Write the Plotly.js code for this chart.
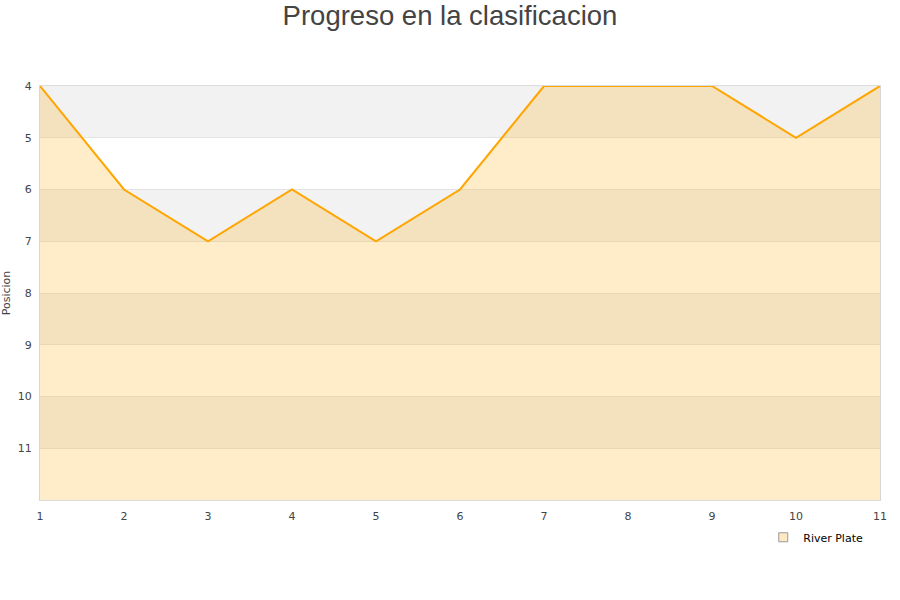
<!DOCTYPE html>
<html>
<head>
<meta charset="utf-8">
<script src="https://cdn.plot.ly/plotly-3.0.1.min.js"></script>
<style>
  html, body { margin: 0; padding: 0; background: #fff; }
  #chart { width: 900px; height: 600px; }
</style>
</head>
<body>
<div id="chart"></div>
<script>
// Jornadas played and the league position after each one
const jornadas = [1, 2, 3, 4, 5, 6, 7, 8, 9, 10, 11];
const posiciones = [4, 6, 7, 6, 7, 6, 4, 4, 4, 5, 4];
const equipo = 'River Plate';
const yTicks = [4, 5, 6, 7, 8, 9, 10, 11];
const yLimits = [4, 12];

// Alternating grey / white horizontal bands behind the plot
const bands = [];
for (let v = yLimits[0]; v < yLimits[1]; v += 2) {
  bands.push({
    type: 'rect', xref: 'paper', yref: 'y', layer: 'below',
    x0: 0, x1: 1, y0: v, y1: v + 1,
    fillcolor: '#f2f2f2', line: { width: 0 }
  });
}

const baseline = {
  x: jornadas, y: jornadas.map(() => yLimits[1]),
  mode: 'lines', line: { width: 0 }, hoverinfo: 'skip', showlegend: false
};

const serie = {
  x: jornadas, y: posiciones, name: equipo,
  mode: 'lines', fill: 'tonexty', fillcolor: 'rgba(255,165,0,0.21)',
  line: { color: '#ffa500', width: 2 }, showlegend: false, cliponaxis: false
};

const leyenda = {
  x: [null], y: [null], name: equipo, mode: 'markers',
  marker: { symbol: 'square', size: 9, color: '#fde9c4', line: { color: '#999', width: 1 } },
  showlegend: true
};

const layout = {
  width: 900, height: 600,
  paper_bgcolor: '#fff', plot_bgcolor: 'rgba(0,0,0,0)',
  margin: { l: 40, r: 20, t: 86, b: 100 },
  title: {
    text: 'Progreso en la clasificacion',
    font: { family: 'Liberation Sans, Arial, sans-serif', size: 27.5, color: '#444' },
    x: 0.5, xanchor: 'center', y: 0.974, yanchor: 'middle'
  },
  font: { family: 'DejaVu Sans, sans-serif', size: 11, color: '#444' },
  xaxis: {
    range: [1, 11], tickvals: jornadas, ticks: 'outside', ticklen: 6, tickcolor: 'rgba(0,0,0,0)',
    showgrid: false, zeroline: false,
    showline: true, linecolor: '#dcdcdc', linewidth: 1, mirror: true,
    tickfont: { size: 11, color: '#444' }
  },
  yaxis: {
    range: [yLimits[1], yLimits[0]], tickvals: yTicks, ticks: 'outside', ticklen: 5, tickcolor: 'rgba(0,0,0,0)',
    showgrid: true, gridcolor: '#e3e3e3', zeroline: false,
    showline: true, linecolor: '#d6d6d6', linewidth: 1, mirror: true,
    tickfont: { size: 11, color: '#444' },
    title: { text: 'Posicion', font: { size: 11, color: '#444' }, standoff: 9 }
  },
  shapes: bands,
  legend: {
    x: 0.986, xanchor: 'right', y: -0.055, yanchor: 'top',
    bgcolor: '#fff', font: { size: 11, color: '#000' },
    itemwidth: 30
  }
};

Plotly.newPlot('chart', [baseline, serie, leyenda], layout, { displayModeBar: false });
</script>
</body>
</html>
